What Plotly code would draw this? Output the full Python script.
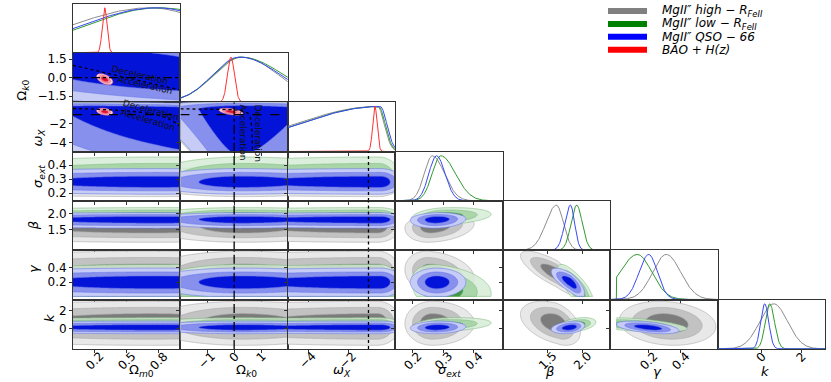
import numpy as np
import plotly.graph_objects as go

W, H = 831, 382

# parameters (columns / rows of the triangle)
par_labels = ["Ω<sub><i>m</i>0</sub>", "Ω<sub><i>k</i>0</sub>", "<i>ω<sub>X</sub></i>",
              "<i>σ<sub>ext</sub></i>", "<i>β</i>", "<i>γ</i>", "<i>k</i>"]
par_lims = [[0.0, 1.0], [-2.0, 2.0], [-5.0, 0.33], [0.143, 0.495], [0.86, 2.4], [-0.04, 0.63], [-2.2, 3.2]]
par_floor = [None, None, None, None, None, 0.0, None]
xtick_vals = [[0.2, 0.5, 0.8], [-1, 0, 1], [-4, -2], [0.2, 0.3, 0.4], [1.5, 2.0], [0.2, 0.4], [0, 2]]
xtick_text = [["0.2", "0.5", "0.8"], ["−1", "0", "1"], ["−4", "−2"], ["0.2", "0.3", "0.4"],
              ["1.5", "2.0"], ["0.2", "0.4"], ["0", "2"]]
ytick_vals = [[], [-1.5, 0, 1.5], [-4, -2], [0.2, 0.3, 0.4], [1.5, 2.0], [0.2, 0.4], [0, 2]]
ytick_text = [[], ["−1.5", "0.0", "1.5"], ["−4", "−2"], ["0.2", "0.3", "0.4"],
              ["1.5", "2.0"], ["0.2", "0.4"], ["0", "2"]]

# marginals: mode, width below mode, width above mode
high_mode = [0.72, 0.30, -0.55, 0.264, 1.63, 0.31, 0.62]
high_lo = [0.74, 1.05, 4.13, 0.026, 0.15, 0.085, 0.70]
high_hi = [0.58, 1.35, 0.33, 0.040, 0.10, 0.090, 0.70]
low_mode = [0.80, 0.25, -0.50, 0.292, 1.92, 0.13, 0.42]
low_lo = [0.68, 1.02, 3.99, 0.028, 0.08, 0.11, 0.22]
low_hi = [0.70, 1.60, 0.33, 0.048, 0.08, 0.09, 0.24]
qso_mode = [0.78, 0.20, -0.42, 0.278, 1.83, 0.20, 0.17]
qso_lo = [0.70, 1.00, 4.06, 0.025, 0.08, 0.060, 0.20]
qso_hi = [0.58, 1.53, 0.33, 0.028, 0.06, 0.055, 0.20]
bao_mode = [0.295, -0.12, -0.68]
bao_lo = [0.022, 0.13, 0.11]
bao_hi = [0.022, 0.13, 0.11]

# correlations of the 2D panels (x param, y param)
high_rho = {(0, 1): -0.45, (0, 2): -0.55, (3, 4): 0.15, (3, 5): -0.2, (4, 5): -0.8, (4, 6): -0.4, (5, 6): -0.15}
low_rho = {(0, 1): -0.45, (0, 2): -0.55, (3, 4): 0.25, (3, 5): -0.25, (3, 6): 0.3, (4, 5): -0.8, (4, 6): 0.4, (5, 6): -0.5}
qso_rho = {(0, 1): -0.45, (0, 2): -0.55, (3, 4): 0.1, (3, 6): 0.1, (4, 5): -0.75, (4, 6): 0.3, (5, 6): -0.5}
bao_rho = {(0, 1): -0.5, (0, 2): -0.3, (1, 2): -0.5}
# cosmology panels of the quasar sets: x width, y width, narrowing of x toward low y
mg_shape = {(0, 1): (1.0, 0.85, 0.0), (0, 2): (1.0, 0.75, 0.0), (1, 2): (1.0, 0.8, 0.4)}

sets = [
    dict(mode=high_mode, lo=high_lo, hi=high_hi, rho=high_rho, shape=mg_shape,
         fills=["#e8e8e8", "#c2c2c2", "#7c7c7c"], edge="#a8a8a8", line="#8c8c8c", op=1.0),
    dict(mode=low_mode, lo=low_lo, hi=low_hi, rho=low_rho, shape=mg_shape,
         fills=["#d6ecd6", "#a2d2a2", "#2e8f2e"], edge="#6cb46c", line="#2f9a2f", op=0.85),
    dict(mode=qso_mode, lo=qso_lo, hi=qso_hi, rho=qso_rho, shape=mg_shape,
         fills=["#c6ccf5", "#8790ec", "#0413d8"], edge="#6a78ea", line="#3848f5", op=1.0),
    dict(mode=bao_mode, lo=bao_lo, hi=bao_hi, rho=bao_rho, shape={},
         fills=["#fbd3da", "#f29aab", "#e0102f"], edge="#e85a74", line="#ff3030", op=1.0),
]
chi2_levels = [11.83, 6.18, 2.30]
leg_names = ["<i>MgII″ high − R<sub>FeII</sub></i>", "<i>MgII″ low − R<sub>FeII</sub></i>",
             "<i>MgII″ QSO − 66</i>", "<i>BAO + H(z)</i>"]
leg_colors = ["#808080", "#008000", "#0000ff", "#ff0000"]

# reference lines
ok_ref, wx_ref = 0.0, -1.0
dec1_om, dec1_ok = [0.0, 1.0], [1.0, -1.0]
dec2_om, dec2_wx = [0.0, 0.25, 0.5, 0.75, 0.9, 1.0], [-0.33, -0.43, -0.59, -0.96, -1.5, -2.3]
dec3_ok, dec3_wx = [-2.0, -1.0, 0.0, 0.3, 0.5, 0.6, 0.65, 0.68], [-0.37, -0.41, -0.48, -0.58, -0.83, -1.33, -2.33, -5.0]


def stdz(x, m, lo, hi):
    return np.where(x < m, (x - m) / lo, (x - m) / hi)


x0, cw = 73.0, 107.43
y0, rh = 2.7, 49.6
fig = go.Figure()
layout = {}
pid = {}
n = 0
for i in range(7):
    for j in range(i + 1):
        n += 1
        pid[(i, j)] = n
        xa, ya = ("x", "y") if n == 1 else (f"x{n}", f"y{n}")
        xname, yname = ("xaxis", "yaxis") if n == 1 else (f"xaxis{n}", f"yaxis{n}")
        common = dict(showgrid=False, zeroline=False, showline=True, mirror=True, linecolor="#333",
                      linewidth=1, ticks="outside", ticklen=3, tickcolor="#333",
                      tickfont=dict(family="DejaVu Sans", size=12, color="black"))
        layout[xname] = dict(common, domain=[(x0 + j * cw) / W, (x0 + (j + 1) * cw) / W],
                             anchor=ya, range=par_lims[j], tickvals=xtick_vals[j], showticklabels=False)
        ydom = [1 - (y0 + (i + 1) * rh) / H, 1 - (y0 + i * rh) / H]
        if i == j:
            layout[yname] = dict(common, domain=ydom, anchor=xa, range=[-0.005, 1.09],
                                 ticks="", showticklabels=False)
            xs = np.linspace(par_lims[j][0], par_lims[j][1], 400)
            for s in sets:
                if j >= len(s["mode"]):
                    continue
                u = stdz(xs, s["mode"][j], s["lo"][j], s["hi"][j])
                p = np.exp(-0.5 * u * u)
                if par_floor[j] is not None:
                    p = np.where(xs < par_floor[j], 0.0, p)
                fig.add_trace(go.Scatter(x=xs, y=p, xaxis=xa, yaxis=ya, mode="lines",
                                         line=dict(color=s["line"], width=1), showlegend=False,
                                         hoverinfo="skip"))
            continue
        layout[yname] = dict(common, domain=ydom, anchor=xa, range=par_lims[i],
                             tickvals=ytick_vals[i], ticktext=ytick_text[i], showticklabels=(j == 0))
        xs = np.linspace(par_lims[j][0], par_lims[j][1], 130)
        ys = np.linspace(par_lims[i][0], par_lims[i][1], 90)
        X, Y = np.meshgrid(xs, ys)
        for s in sets:
            if i >= len(s["mode"]):
                continue
            fx, fy, tau = s["shape"].get((j, i), (1.0, 1.0, 0.0))
            v = stdz(Y, s["mode"][i], s["lo"][i] * fy, s["hi"][i] * fy)
            u = stdz(X, s["mode"][j], s["lo"][j] * fx, s["hi"][j] * fx) * np.exp(-tau * np.minimum(v, 0))
            r = s["rho"].get((j, i), 0.0)
            c2 = (u * u - 2 * r * u * v + v * v) / (1 - r * r)
            if par_floor[i] is not None:
                c2 = np.where(Y < par_floor[i], 1e3, c2)
            if par_floor[j] is not None:
                c2 = np.where(X < par_floor[j], 1e3, c2)
            for lev, fc in zip(chi2_levels, s["fills"]):
                # constraint contours shade the excluded side, so '>' fills chi2 < lev
                fig.add_trace(go.Contour(x=xs, y=ys, z=c2, xaxis=xa, yaxis=ya, showscale=False,
                                         hoverinfo="skip", opacity=s["op"],
                                         contours=dict(type="constraint", operation=">", value=lev),
                                         fillcolor=fc, line=dict(color=s["edge"], width=0.6, smoothing=1)))


def ax(i, j):
    n = pid[(i, j)]
    return ("x", "y") if n == 1 else (f"x{n}", f"y{n}")


def ref_line(i, j, xv, yv, dash, shape="linear"):
    xa, ya = ax(i, j)
    fig.add_trace(go.Scatter(x=xv, y=yv, xaxis=xa, yaxis=ya, mode="lines", showlegend=False,
                             hoverinfo="skip", line=dict(color="black", width=1.3, dash=dash, shape=shape)))


ref_line(1, 0, par_lims[0], [ok_ref, ok_ref], "dashdot")
ref_line(1, 0, dec1_om, dec1_ok, "dot")
ref_line(2, 0, par_lims[0], [wx_ref, wx_ref], "dash")
ref_line(2, 0, dec2_om, dec2_wx, "dot", "spline")
ref_line(2, 1, par_lims[1], [wx_ref, wx_ref], "dash")
ref_line(2, 1, dec3_ok, dec3_wx, "dot", "spline")
for i in range(2, 7):
    ref_line(i, 1, [ok_ref, ok_ref], par_lims[i], "dashdot")
for i in range(3, 7):
    ref_line(i, 2, [wx_ref, wx_ref], par_lims[i], "dot")

ann = []
txt_font = dict(family="DejaVu Sans", size=9, color="#111")
for (i, j), xv, yv, t, ang in [((1, 0), 0.62, 0.2, "Deceleration", 13), ((1, 0), 0.67, -0.62, "Acceleration", 13),
                               ((2, 0), 0.72, -0.5, "Deceleration", 15), ((2, 0), 0.70, -1.6, "Acceleration", 17),
                               ((2, 1), 0.32, -2.9, "Acceleration", 90), ((2, 1), 0.88, -3.0, "Deceleration", 90)]:
    xa, ya = ax(i, j)
    ann.append(dict(x=xv, y=yv, xref=xa, yref=ya, text=t, textangle=ang, showarrow=False, font=txt_font))

# rotated tick labels of the bottom row
tick_font = dict(family="DejaVu Sans", size=12, color="black")
for j in range(7):
    xa, _ = ax(6, j)
    for v, t in zip(xtick_vals[j], xtick_text[j]):
        ann.append(dict(x=v, y=1 - 347 / H, xref=xa, yref="paper", text=t, textangle=-45,
                        xanchor="center", yanchor="top", showarrow=False, font=tick_font))

lab_font = dict(family="DejaVu Sans", size=13, color="black")
for j in range(7):
    ann.append(dict(x=(x0 + (j + 0.5) * cw) / W, y=1 - 382 / H, xref="paper", yref="paper",
                    text=par_labels[j], showarrow=False, font=lab_font))
ytitle_x = [None, 12, 28, 28, 24, 24, 40]
for i in range(1, 7):
    ann.append(dict(x=ytitle_x[i] / W, y=1 - (y0 + (i + 0.5) * rh) / H, xref="paper", yref="paper",
                    text=par_labels[i], textangle=-90, showarrow=False, font=lab_font))

shapes = []
for k, (name, col) in enumerate(zip(leg_names, leg_colors)):
    yy = 1 - (10 + k * 13) / H
    shapes.append(dict(type="line", xref="paper", yref="paper", x0=608 / W, x1=647 / W, y0=yy, y1=yy,
                       line=dict(color=col, width=6)))
    ann.append(dict(x=660 / W, y=yy, xref="paper", yref="paper", xanchor="left", yanchor="middle",
                    text=name, showarrow=False, font=dict(family="DejaVu Sans", size=12, color="black")))

fig.update_layout(width=W, height=H, margin=dict(l=0, r=0, t=0, b=0), paper_bgcolor="white",
                  plot_bgcolor="white", showlegend=False, annotations=ann, shapes=shapes, **layout)
fig.write_html("out.html", config={"displayModeBar": False},
               post_script="document.body.style.margin='0';")
